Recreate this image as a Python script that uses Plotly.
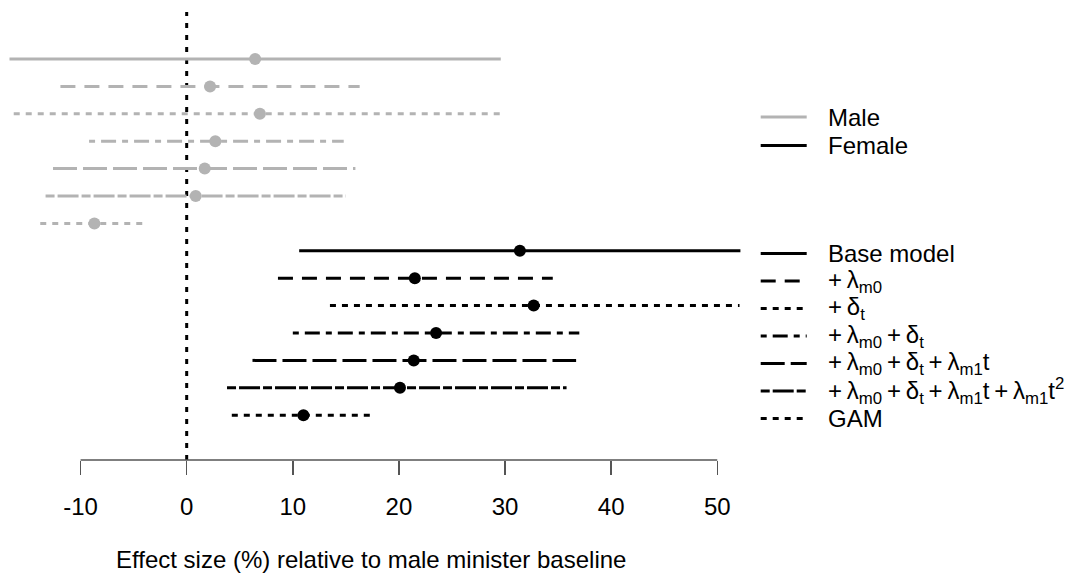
import plotly.graph_objects as go

W, H = 1067, 576
FONT = "Liberation Sans, Arial, Helvetica, sans-serif"
TS = "\u2009"  # thin space used around plotmath-style operators

# ---------------- data ----------------
model_labels = [
    "Base model",
    f"+{TS}λ<sub>m0</sub>",
    f"+{TS}δ<sub>t</sub>",
    f"+{TS}λ<sub>m0</sub>{TS}+{TS}δ<sub>t</sub>",
    f"+{TS}λ<sub>m0</sub>{TS}+{TS}δ<sub>t</sub>{TS}+{TS}λ<sub>m1</sub>t",
    f"+{TS}λ<sub>m0</sub>{TS}+{TS}δ<sub>t</sub>{TS}+{TS}λ<sub>m1</sub>t{TS}+{TS}λ<sub>m1</sub>t<sup>2</sup>",
    "GAM",
]
group_labels = ["Male", "Female"]

male_est = [6.45, 2.2, 6.9, 2.7, 1.7, 0.85, -8.7]
male_lo = [-16.7, -11.9, -16.3, -9.2, -12.6, -13.3, -13.8]
male_hi = [29.6, 16.3, 29.7, 14.8, 15.9, 15.0, -3.9]

female_est = [31.4, 21.5, 32.7, 23.5, 21.4, 20.1, 11.0]
female_lo = [10.6, 8.6, 13.5, 10.0, 6.2, 3.8, 4.25]
female_hi = [52.2, 34.5, 52.1, 37.0, 36.7, 35.8, 17.4]

tick_vals = [-10, 0, 10, 20, 30, 40, 50]
tick_text = ["-10", "0", "10", "20", "30", "40", "50"]
x_title = "Effect size (%) relative to male minister baseline"

# ---------------- styles ----------------
GRAY = "#b3b3b3"
BLACK = "#000000"
dash_styles = ["solid", "15px,9px", "6px,6px", "6px,6px,15px,6px",
               "24px,6px", "9px,3px,21px,3px", "6px,6px"]
group_colors = [GRAY, BLACK]

X_RANGE = [-17.5, 52.21]
Y_RANGE = [15.635, -0.715]  # reversed: row 1 at top
PLOT_X0, PLOT_X1 = 1, 740.7
PLOT_Y0, PLOT_Y1 = 12, 460  # pixel top / bottom

n = len(model_labels)
groups = [
    (male_est, male_lo, male_hi, list(range(1, n + 1)), GRAY),
    (female_est, female_lo, female_hi, list(range(n + 1, 2 * n + 1)), BLACK),
]

fig = go.Figure()

# vertical reference line at zero (drawn bottom -> top)
fig.add_trace(go.Scatter(
    x=[0, 0], y=[Y_RANGE[0], Y_RANGE[1]], mode="lines",
    line=dict(color=BLACK, width=3, dash="5px,7px"),
    hoverinfo="skip", showlegend=False))

for est, lo, hi, rows, col in groups:
    for i in range(n):
        fig.add_trace(go.Scatter(
            x=[lo[i], hi[i]], y=[rows[i], rows[i]], mode="lines",
            line=dict(color=col, width=3, dash=dash_styles[i]),
            hoverinfo="skip", showlegend=False))
    fig.add_trace(go.Scatter(
        x=est, y=rows, mode="markers",
        marker=dict(color=col, size=12, line=dict(width=0)),
        hoverinfo="skip", showlegend=False, cliponaxis=False))

# ---------------- legend (drawn manually, R style) ----------------
shapes = []
annotations = []
LEG_X0, LEG_X1, LEG_TX = 760.7, 806.7, 826
TOP_LEG_Y, TOP_LEG_STEP = 117.0, 28.6
LOW_LEG_Y, LOW_LEG_STEP = 253.5, 27.5


def px_x(px):
    return px / W


def px_y(py):
    return 1 - py / H


for k, (lab, col) in enumerate(zip(group_labels, group_colors)):
    yy = TOP_LEG_Y + TOP_LEG_STEP * k
    shapes.append(dict(type="line", xref="paper", yref="paper",
                       x0=px_x(LEG_X0), x1=px_x(LEG_X1), y0=px_y(yy), y1=px_y(yy),
                       line=dict(color=col, width=3)))
    annotations.append(dict(text=lab, xref="paper", yref="paper",
                            x=px_x(LEG_TX), y=px_y(yy), xanchor="left", yanchor="middle",
                            showarrow=False, font=dict(family=FONT, size=24, color=BLACK)))

for k, lab in enumerate(model_labels):
    yy = LOW_LEG_Y + LOW_LEG_STEP * k
    shapes.append(dict(type="line", xref="paper", yref="paper",
                       x0=px_x(LEG_X0), x1=px_x(LEG_X1), y0=px_y(yy), y1=px_y(yy),
                       line=dict(color=BLACK, width=3, dash=dash_styles[k])))
    annotations.append(dict(text=lab, xref="paper", yref="paper",
                            x=px_x(LEG_TX), y=px_y(yy), xanchor="left", yanchor="middle",
                            showarrow=False, font=dict(family=FONT, size=24, color=BLACK)))

# axis line only between first and last tick (R style)
shapes.append(dict(type="line", xref="x", yref="y domain",
                   x0=tick_vals[0], x1=tick_vals[-1], y0=0, y1=0,
                   line=dict(color="#555555", width=1.5)))

# x-axis title
annotations.append(dict(text=x_title, xref="paper", yref="paper",
                        x=px_x((PLOT_X0 + PLOT_X1) / 2), y=px_y(559),
                        xanchor="center", yanchor="middle", showarrow=False,
                        font=dict(family=FONT, size=24, color=BLACK)))

fig.update_layout(
    width=W, height=H,
    margin=dict(l=0, r=0, t=0, b=0, autoexpand=False),
    paper_bgcolor="white", plot_bgcolor="white",
    font=dict(family=FONT, size=24, color=BLACK),
    showlegend=False,
    shapes=shapes,
    annotations=annotations,
    xaxis=dict(
        domain=[PLOT_X0 / W, PLOT_X1 / W], range=X_RANGE,
        tickmode="array", tickvals=tick_vals, ticktext=tick_text,
        ticks="outside", ticklen=14, tickwidth=1.5, tickcolor="#555555",
        showline=False, showgrid=False, zeroline=False,
        tickfont=dict(family=FONT, size=24, color=BLACK),
        ticklabelstandoff=11, automargin=False, fixedrange=True,
    ),
    yaxis=dict(
        domain=[1 - PLOT_Y1 / H, 1 - PLOT_Y0 / H], range=Y_RANGE,
        visible=False, showgrid=False, zeroline=False,
        automargin=False, fixedrange=True,
    ),
)

fig.write_html(
    "out.html",
    config={"displayModeBar": False, "staticPlot": True},
    post_script="document.body.style.margin='0';document.body.style.overflow='hidden';",
)
